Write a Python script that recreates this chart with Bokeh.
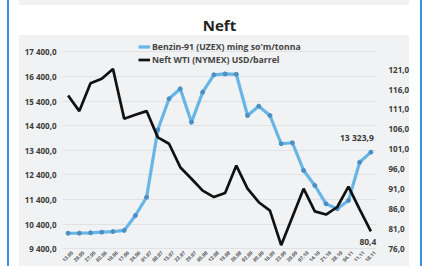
from bokeh.plotting import figure
from bokeh.models import (FactorRange, Range1d, LinearAxis, FixedTicker, Legend,
                          LegendItem, ColumnDataSource, Label)
from bokeh.core.properties import value
from bokeh.embed import file_html
from bokeh.resources import INLINE
import math

dates = ["13.05", "20.05", "27.05", "03.06", "10.06", "17.06", "24.06", "01.07",
         "08.07", "15.07", "22.07", "29.07", "05.08", "12.08", "19.08", "26.08",
         "02.09", "09.09", "16.09", "23.09", "30.09", "07.10", "14.10", "21.10",
         "28.10", "04.11", "11.11", "18.11"]

benzin = [10030, 10035, 10050, 10075, 10100, 10145, 10750, 11495, 14230, 15490,
          15895, 14540, 15760, 16465, 16500, 16485, 14810, 15190, 14810, 13665,
          13705, 12580, 11970, 11225, 11025, 11360, 12915, 13323.9]

wti = [114.5, 110.6, 117.6, 118.7, 121.2, 108.7, 109.7, 110.6, 104.0, 102.4,
       96.5, 93.6, 90.6, 89.0, 90.0, 96.9, 91.1, 87.7, 85.6, 76.9,
       84.0, 91.1, 85.4, 84.6, 86.5, 91.6, 85.9, 80.4]

left_ticks = [9400, 10400, 11400, 12400, 13400, 14400, 15400, 16400, 17400]
left_labels = ["9 400,0", "10 400,0", "11 400,0", "12 400,0", "13 400,0",
               "14 400,0", "15 400,0", "16 400,0", "17 400,0"]
right_ticks = [76, 81, 86, 91, 96, 101, 106, 111, 116, 121]
right_labels = ["76,0", "81,0", "86,0", "91,0", "96,0", "101,0", "106,0",
                "111,0", "116,0", "121,0"]

title_text = "Neft"
legend_benzin = "Benzin-91 (UZEX) ming so'm/tonna"
legend_wti = "Neft WTI (NYMEX) USD/barrel"

FONT = "Open Sans"
TXT = "#3a3a3a"
BLUE = "#68b6e6"
GRAY = "#f1f2f4"
FRAME_BLUE = "#3d8fdc"

src = ColumnDataSource(dict(d=dates, b=benzin, w=wti))

p = figure(width=422, height=266, output_backend="svg", toolbar_location=None,
           x_range=FactorRange(factors=dates, range_padding=0),
           y_range=Range1d(8681, 17938),
           min_border_left=62, min_border_right=46, min_border_top=38,
           min_border_bottom=0)
p.extra_y_ranges = {"wti": Range1d(71.55, 128.84)}

p.styles = {"background": (
    f"linear-gradient({FRAME_BLUE},{FRAME_BLUE}) 7px 0px/2px 100% no-repeat, "
    f"linear-gradient({FRAME_BLUE},{FRAME_BLUE}) 420px 0px/2px 100% no-repeat, "
    f"linear-gradient({GRAY},{GRAY}) 19px 0px/390px 5px no-repeat, "
    f"linear-gradient({GRAY},{GRAY}) 19px 35px/390px 231px no-repeat, #ffffff")}
p.border_fill_alpha = 0
p.background_fill_alpha = 0
p.outline_line_color = None

p.title.text = title_text
p.title.align = "center"
p.title.offset = -4
p.title.standoff = 8
p.title.text_font = FONT
p.title.text_font_size = "15px"
p.title.text_font_style = "bold"
p.title.text_color = "#222222"

# grid
p.xgrid.grid_line_color = None
p.ygrid.ticker = FixedTicker(ticks=left_ticks)
p.ygrid.grid_line_color = "#e1e2e5"
p.ygrid.grid_line_width = 1

# left axis
ya = p.yaxis[0]
ya.ticker = FixedTicker(ticks=left_ticks)
ya.major_label_overrides = {t: l for t, l in zip(left_ticks, left_labels)}
ya.axis_line_color = None
ya.major_tick_line_color = None
ya.minor_tick_line_color = None
ya.major_tick_out = 0
ya.major_tick_in = 0
ya.minor_tick_out = 0
ya.major_label_standoff = 6
ya.major_label_text_font = FONT
ya.major_label_text_font_size = "8px"
ya.major_label_text_font_style = "bold"
ya.major_label_text_color = TXT

# right axis
ra = LinearAxis(y_range_name="wti", ticker=FixedTicker(ticks=right_ticks))
ra.major_label_overrides = {t: l for t, l in zip(right_ticks, right_labels)}
ra.axis_line_color = None
ra.major_tick_line_color = None
ra.minor_tick_line_color = None
ra.major_tick_out = 0
ra.major_tick_in = 0
ra.minor_tick_out = 0
ra.major_label_standoff = 12
ra.major_label_text_font = FONT
ra.major_label_text_font_size = "8px"
ra.major_label_text_font_style = "bold"
ra.major_label_text_color = TXT
p.add_layout(ra, "right")

# bottom axis hidden; category labels drawn as rotated texts
p.xaxis.visible = False
p.text(x="d", y=left_ticks[0], text="d", source=src, angle=math.pi / 4,
       x_offset=4, y_offset=3, text_align="right", text_baseline="middle",
       text_font=value(FONT), text_font_size="5px", text_font_style="bold",
       text_color="#555555")

# series
bl = p.line("d", "b", source=src, line_color=BLUE, line_width=3.2)
p.scatter("d", "b", source=src, size=4, marker="circle",
          fill_color="#4d8fc2", line_color="#4d8fc2")
wl = p.line("d", "w", source=src, y_range_name="wti", line_color="#111111",
            line_width=2.7)


def fmt_thousands(v):
    return f"{v:,.1f}".replace(",", " ").replace(".", ",")


last_pos = len(dates) - 0.5  # centre of the last category on the factor range

p.add_layout(Label(x=last_pos, y=benzin[-1], text=fmt_thousands(benzin[-1]),
                   x_offset=-14, y_offset=15, text_align="center",
                   text_baseline="middle", text_font=FONT, text_font_size="8.5px",
                   text_font_style="bold", text_color=TXT))
p.add_layout(Label(x=last_pos, y=wti[-1], y_range_name="wti",
                   text=f"{wti[-1]:.1f}".replace(".", ","),
                   x_offset=-3, y_offset=-11, text_align="center",
                   text_baseline="middle", text_font=FONT, text_font_size="8.5px",
                   text_font_style="bold", text_color=TXT))

legend = Legend(items=[LegendItem(label=legend_benzin, renderers=[bl]),
                       LegendItem(label=legend_wti, renderers=[wl])],
                location=(76, 200), orientation="vertical")
legend.background_fill_alpha = 0
legend.border_line_color = None
legend.padding = 0
legend.margin = 0
legend.spacing = 0
legend.label_height = 13
legend.glyph_height = 13
legend.glyph_width = 12
legend.label_standoff = 2
legend.label_text_font = FONT
legend.label_text_font_size = "8.7px"
legend.label_text_font_style = "bold"
legend.label_text_color = "#444444"
p.add_layout(legend, "center")

open("out.html", "w").write(file_html(p, INLINE))
